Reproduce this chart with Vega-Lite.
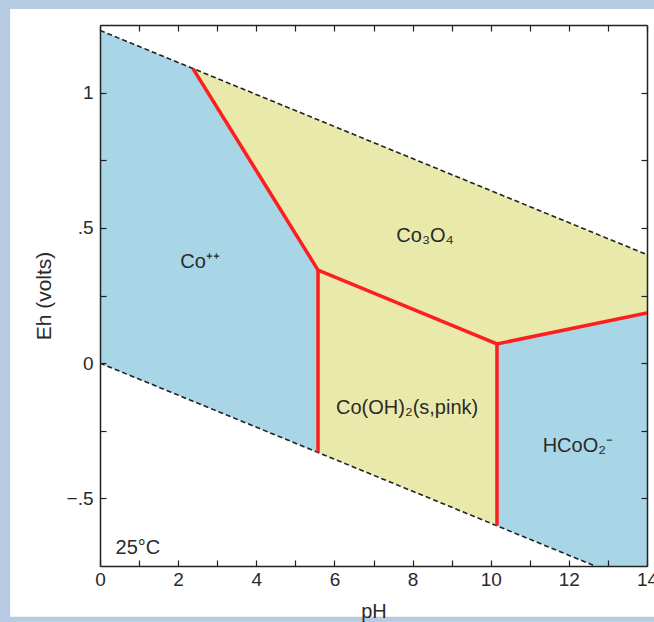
{
  "$schema": "https://vega.github.io/schema/vega-lite/v6.json",
  "autosize": "none",
  "width": 547,
  "height": 541,
  "padding": {"left": 100, "top": 25, "right": 7, "bottom": 56},
  "background": "#b7cbe5",
  "config": {
    "view": {"stroke": null},
    "font": "Liberation Sans",
    "axis": {"labelFont": "Liberation Sans", "titleFont": "Liberation Sans", "labelColor": "#2a2a2a", "titleColor": "#2a2a2a", "domainColor": "#222", "tickColor": "#222", "grid": false, "domainWidth": 1.5, "tickWidth": 1.2}
  },
  "datasets": {
    "regions": [
      {"region": "Co++", "pH": 0, "top": 1.23, "bot": 0},
      {"region": "Co++", "pH": 2.38, "top": 1.089, "bot": -0.141},
      {"region": "Co++", "pH": 5.58, "top": 0.344, "bot": -0.330},
      {"region": "Co3O4", "pH": 2.38, "top": 1.089, "bot": 1.089},
      {"region": "Co3O4", "pH": 5.58, "top": 0.900, "bot": 0.344},
      {"region": "Co3O4", "pH": 10.16, "top": 0.6285, "bot": 0.071},
      {"region": "Co3O4", "pH": 14, "top": 0.401, "bot": 0.185},
      {"region": "Co(OH)2", "pH": 5.58, "top": 0.344, "bot": -0.330},
      {"region": "Co(OH)2", "pH": 10.16, "top": 0.071, "bot": -0.601},
      {"region": "HCoO2-", "pH": 10.16, "top": 0.071, "bot": -0.601},
      {"region": "HCoO2-", "pH": 12.67, "top": 0.1455, "bot": -0.75},
      {"region": "HCoO2-", "pH": 14, "top": 0.185, "bot": -0.75}
    ],
    "water": [
      {"line": "upper", "pH": 0, "Eh": 1.23},
      {"line": "upper", "pH": 14, "Eh": 0.401},
      {"line": "lower", "pH": 0, "Eh": 0},
      {"line": "lower", "pH": 12.67, "Eh": -0.75}
    ],
    "bounds": [
      {"seg": "a", "ord": 1, "pH": 2.38, "Eh": 1.089},
      {"seg": "a", "ord": 2, "pH": 5.58, "Eh": 0.344},
      {"seg": "a", "ord": 3, "pH": 10.16, "Eh": 0.071},
      {"seg": "a", "ord": 4, "pH": 14, "Eh": 0.185},
      {"seg": "b", "ord": 1, "pH": 5.58, "Eh": 0.344},
      {"seg": "b", "ord": 2, "pH": 5.58, "Eh": -0.330},
      {"seg": "c", "ord": 1, "pH": 10.16, "Eh": 0.071},
      {"seg": "c", "ord": 2, "pH": 10.16, "Eh": -0.601}
    ],
    "labels": [
      {"text": "Co⁺⁺", "pH": 2.56, "Eh": 0.374},
      {"text": "Co₃O₄", "pH": 8.32, "Eh": 0.47},
      {"text": "Co(OH)₂(s,pink)", "pH": 7.86, "Eh": -0.166},
      {"text": "HCoO₂⁻", "pH": 12.23, "Eh": -0.306},
      {"text": "25°C", "pH": 0.97, "Eh": -0.683}
    ]
  },
  "layer": [
    {
      "data": {"values": [{}]},
      "mark": {"type": "rect", "color": "white", "clip": false, "zindex": 0},
      "encoding": {
        "x": {"datum": -2.3, "type": "quantitative", "scale": {"domain": [0, 14], "nice": false, "zero": false}, "axis": null},
        "x2": {"datum": 15},
        "y": {"datum": 1.309, "type": "quantitative", "scale": {"domain": [-0.75, 1.25], "nice": false, "zero": false}, "axis": null},
        "y2": {"datum": -0.938}
      }
    },
    {
      "data": {"name": "regions"},
      "mark": {"type": "area", "clip": true, "opacity": 1},
      "encoding": {
        "x": {"field": "pH", "type": "quantitative", "scale": {"domain": [0, 14], "nice": false, "zero": false},
              "axis": {"orient": "bottom", "zindex": 5, "title": "pH", "values": [0,1,2,3,4,5,6,7,8,9,10,11,12,13,14], "labelExpr": "datum.value % 2 == 0 ? datum.label : ''", "tickSize": -6, "labelPadding": 10, "labelFontSize": 19, "titleFontSize": 20, "titleFontWeight": "normal", "titlePadding": 12, "labelFlush": false}},
        "y": {"field": "top", "type": "quantitative", "scale": {"domain": [-0.75, 1.25], "nice": false, "zero": false},
              "axis": {"orient": "left", "zindex": 5, "title": "Eh (volts)", "values": [-0.5, -0.25, 0, 0.25, 0.5, 0.75, 1], "labelExpr": "datum.value == 1 ? '1' : datum.value == 0.5 ? '.5' : datum.value == 0 ? '0' : datum.value == -0.5 ? '−.5' : ''", "tickSize": -6, "labelPadding": 13, "labelFontSize": 19, "titleFontSize": 21, "titleFontWeight": "normal", "titlePadding": 12}},
        "y2": {"field": "bot"},
        "color": {"field": "region", "type": "nominal", "scale": {"domain": ["Co++", "Co3O4", "Co(OH)2", "HCoO2-"], "range": ["#a9d6e6", "#e9e9ab", "#e9e9ab", "#a9d6e6"]}, "legend": null}
      }
    },
    {
      "data": {"name": "water"},
      "mark": {"type": "line", "color": "#222", "strokeWidth": 1.6, "strokeDash": [5, 3], "clip": true},
      "encoding": {
        "x": {"field": "pH", "type": "quantitative", "axis": {"orient": "top", "zindex": 5, "title": null, "labels": false, "values": [0,1,2,3,4,5,6,7,8,9,10,11,12,13,14], "tickSize": -6}},
        "y": {"field": "Eh", "type": "quantitative", "axis": {"orient": "right", "zindex": 5, "title": null, "labels": false, "values": [-0.5, -0.25, 0, 0.25, 0.5, 0.75, 1], "tickSize": -6}},
        "detail": {"field": "line"}
      }
    },
    {
      "data": {"name": "bounds"},
      "mark": {"type": "line", "color": "#ff1e1e", "strokeWidth": 3.5, "clip": true},
      "encoding": {
        "x": {"field": "pH", "type": "quantitative", "axis": null},
        "y": {"field": "Eh", "type": "quantitative", "axis": null},
        "detail": {"field": "seg"},
        "order": {"field": "ord"}
      }
    },
    {
      "data": {"name": "labels"},
      "mark": {"type": "text", "fontSize": 20, "color": "#2a2a2a", "font": "Liberation Sans", "align": "center", "baseline": "middle"},
      "encoding": {
        "x": {"field": "pH", "type": "quantitative", "axis": null},
        "y": {"field": "Eh", "type": "quantitative", "axis": null},
        "text": {"field": "text"}
      }
    }
  ]
}
